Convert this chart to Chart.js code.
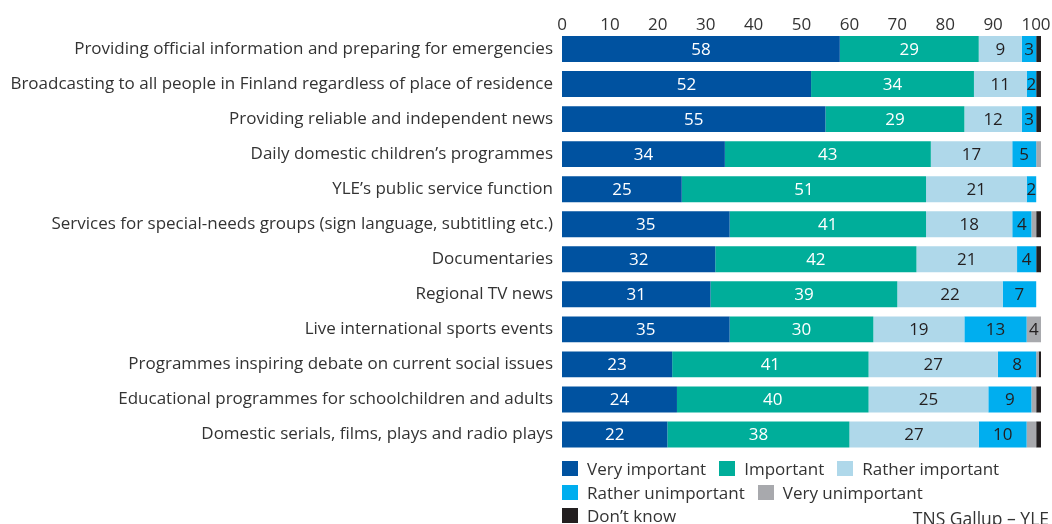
<!DOCTYPE html>
<html>
<head>
<meta charset="utf-8">
<title>YLE public service functions</title>
<script src="https://cdn.jsdelivr.net/npm/chart.js@4/dist/chart.umd.min.js"></script>
<style>
  html, body { margin: 0; padding: 0; background: #fff; }
  #wrap { position: relative; width: 1052px; height: 524px; overflow: hidden;
          font-family: 'Open Sans', sans-serif; color: #333; }
  #cv-box { position: absolute; left: 0; top: 0; width: 1052px; height: 524px; }
  #legend { position: absolute; left: 562px; top: 457px; width: 470px;
            display: flex; flex-wrap: wrap; }
  .lg-item { display: flex; align-items: center; height: 23.5px; margin-right: 13px;
             font-size: 17px; white-space: nowrap; }
  .lg-box { width: 16px; height: 15px; margin-right: 9px; }
  #source { position: absolute; right: 3px; top: 506px; font-size: 17.5px; white-space: nowrap; }
</style>
</head>
<body>
<div id="wrap">
  <div id="cv-box"><canvas id="chart"></canvas></div>
  <div id="legend"></div>
  <div id="source">TNS Gallup – YLE</div>
</div>
<script>
  const categories = [
    'Providing official information and preparing for emergencies',
    'Broadcasting to all people in Finland regardless of place of residence',
    'Providing reliable and independent news',
    'Daily domestic children’s programmes',
    'YLE’s public service function',
    'Services for special-needs groups (sign language, subtitling etc.)',
    'Documentaries',
    'Regional TV news',
    'Live international sports events',
    'Programmes inspiring debate on current social issues',
    'Educational programmes for schoolchildren and adults',
    'Domestic serials, films, plays and radio plays'
  ];

  const seriesNames = ['Very important', 'Important', 'Rather important',
    'Rather unimportant', 'Very unimportant', 'Don’t know'];
  const seriesColors = ['#0052a0', '#00ae9a', '#afd8ea', '#00aeef', '#a8a9ad', '#231f20'];

  const veryImportant     = [58, 52, 55, 34, 25, 35, 32, 31, 35, 23, 24, 22];
  const important         = [29, 34, 29, 43, 51, 41, 42, 39, 30, 41, 40, 38];
  const ratherImportant   = [9, 11, 12, 17, 21, 18, 21, 22, 19, 27, 25, 27];
  const ratherUnimportant = [3, 2, 3, 5, 2, 4, 4, 7, 13, 8, 9, 10];
  const veryUnimportant   = [0, 0, 0, 1, 0, 1, 0, 0, 4, 0.5, 1, 2];
  const dontKnow          = [1, 1, 1, 0, 0, 1, 1, 0, 0, 1, 1, 1];

  const xTicks = [0, 10, 20, 30, 40, 50, 60, 70, 80, 90, 100];

  const seriesData = [veryImportant, important, ratherImportant,
    ratherUnimportant, veryUnimportant, dontKnow];

  const TEXT = '#333333';
  const FONT = "'Open Sans', sans-serif";

  // numbers inside the segments
  const segmentLabels = {
    id: 'segmentLabels',
    afterDatasetsDraw(chart) {
      const ctx = chart.ctx;
      const area = chart.chartArea;
      ctx.save();
      ctx.font = '17px ' + FONT;
      ctx.textAlign = 'center';
      ctx.textBaseline = 'middle';
      chart.data.datasets.forEach(function (ds, di) {
        if (di === 5) return;
        const meta = chart.getDatasetMeta(di);
        meta.data.forEach(function (bar, i) {
          const v = ds.data[i];
          if (v < (di === 4 ? 3 : 2)) return;
          const l = Math.max(Math.min(bar.x, bar.base), area.left);
          const r = Math.min(Math.max(bar.x, bar.base), area.right);
          ctx.fillStyle = di < 2 ? '#ffffff' : '#231f20';
          ctx.fillText(String(v), (l + r) / 2, bar.y + 1);
        });
      });
      ctx.restore();
    }
  };

  // keep the "100" tick label inside the canvas
  const lastTickInside = {
    id: 'lastTickInside',
    beforeDraw(chart) {
      const scale = chart.scales.x;
      const items = scale.getLabelItems(chart.chartArea);
      const last = items[items.length - 1];
      if (last && !last._shifted) {
        last.options.translation[0] -= 5;
        last._shifted = true;
      }
    }
  };

  new Chart(document.getElementById('chart'), {
    type: 'bar',
    data: {
      labels: categories,
      datasets: seriesData.map(function (d, i) {
        return {
          label: seriesNames[i],
          data: d,
          backgroundColor: seriesColors[i],
          borderWidth: 0,
          barPercentage: 0.74,
          categoryPercentage: 1
        };
      })
    },
    options: {
      indexAxis: 'y',
      responsive: true,
      maintainAspectRatio: false,
      animation: false,
      layout: { padding: { left: 0, right: 11, top: 0, bottom: 72 } },
      plugins: { legend: { display: false }, tooltip: { enabled: false } },
      scales: {
        x: {
          position: 'top',
          stacked: true,
          min: 0,
          max: 100,
          afterBuildTicks(scale) {
            scale.ticks = xTicks.map(function (v) { return { value: v }; });
          },
          afterFit(scale) {
            scale.height = 31.5;
            scale.paddingLeft = 0;
            scale.paddingRight = 0;
          },
          grid: { display: false, drawTicks: false },
          border: { display: false },
          ticks: { color: TEXT, font: { size: 17, family: FONT }, padding: -4, maxRotation: 0 }
        },
        y: {
          stacked: true,
          afterFit(scale) { scale.width = 562; },
          grid: { display: false, drawTicks: false },
          border: { display: false },
          ticks: { color: TEXT, font: { size: 17, family: FONT }, padding: 9, autoSkip: false }
        }
      }
    },
    plugins: [segmentLabels, lastTickInside]
  });

  // legend in the wrapped three-row layout
  const legend = document.getElementById('legend');
  seriesNames.forEach(function (name, i) {
    const item = document.createElement('div');
    item.className = 'lg-item';
    const box = document.createElement('span');
    box.className = 'lg-box';
    box.style.background = seriesColors[i];
    const txt = document.createElement('span');
    txt.textContent = name;
    item.appendChild(box);
    item.appendChild(txt);
    legend.appendChild(item);
  });
</script>
</body>
</html>
